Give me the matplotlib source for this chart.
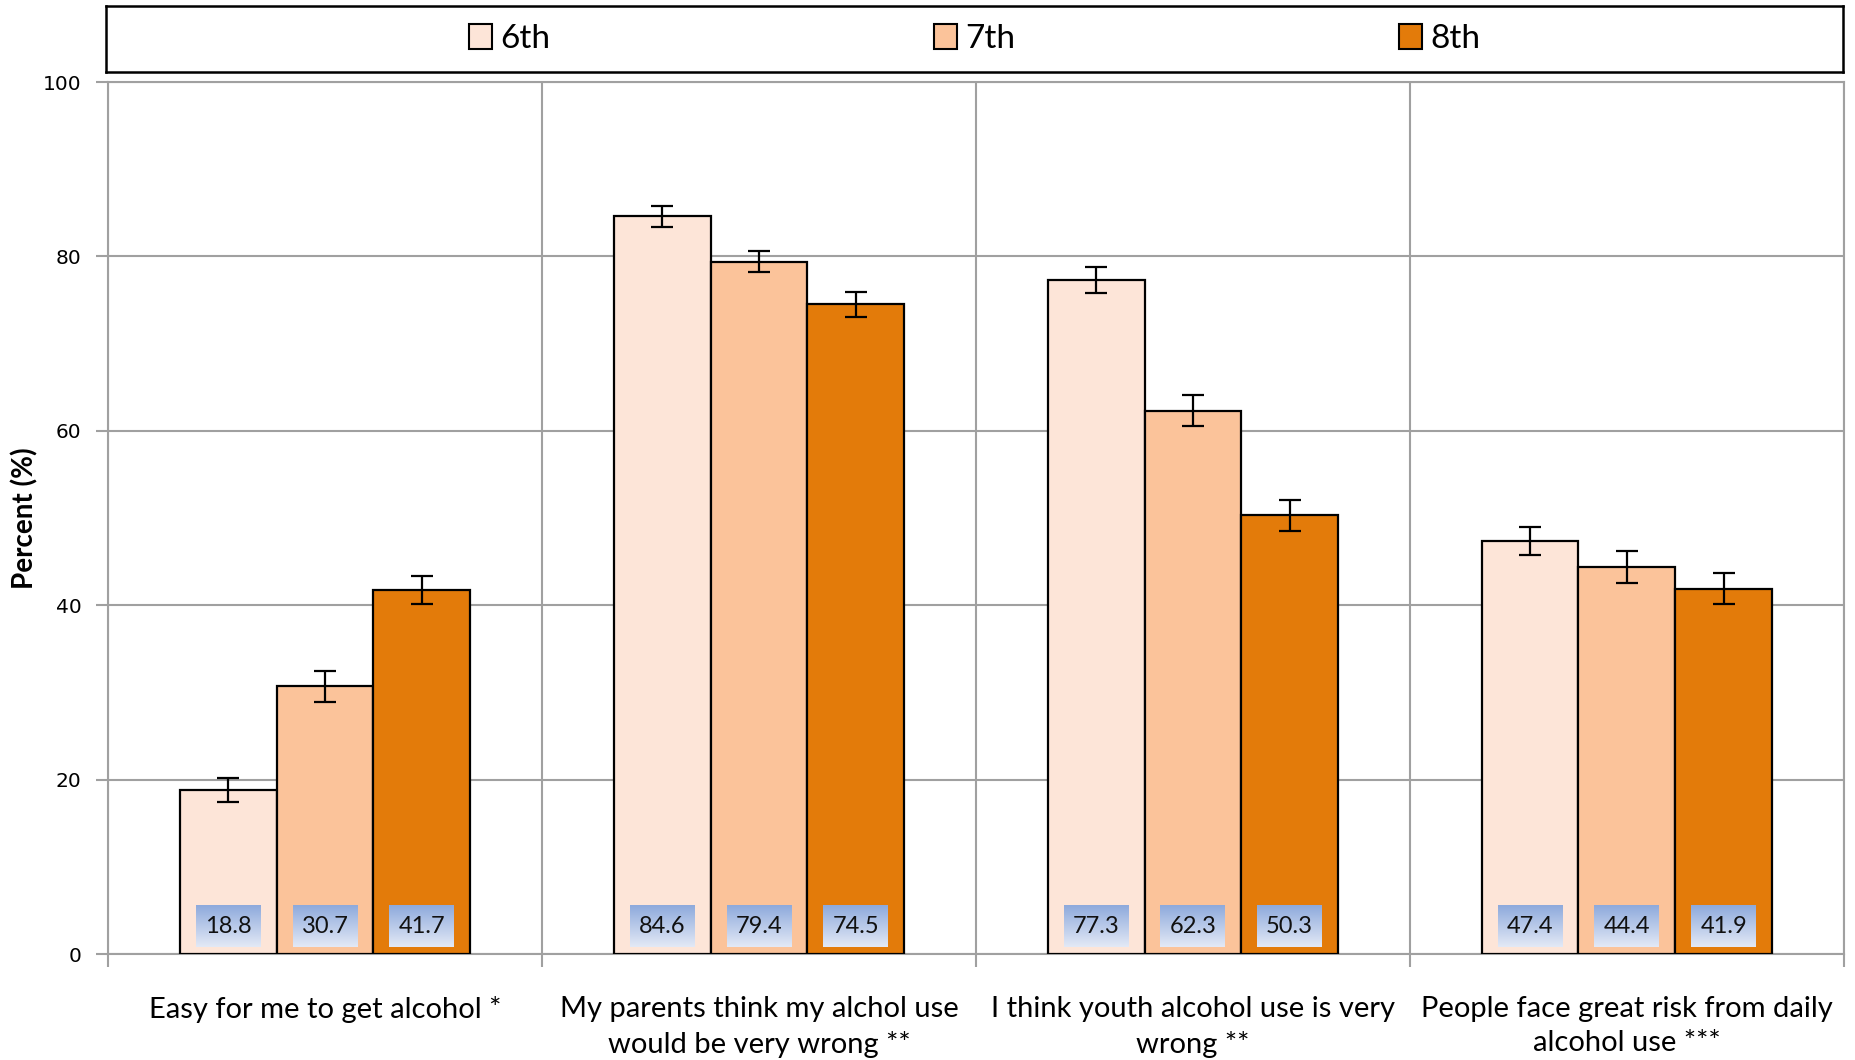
import matplotlib
matplotlib.use("Agg")
import matplotlib.pyplot as plt
import numpy as np
from matplotlib.patches import Patch
from matplotlib.colors import LinearSegmentedColormap

categories = ["Easy for me to get alcohol *",
              "My parents think my alchol use\nwould be very wrong **",
              "I think youth alcohol use is very\nwrong **",
              "People face great risk from daily\nalcohol use ***"]
series = ["6th", "7th", "8th"]
values = {
    "6th": [18.8, 84.6, 77.3, 47.4],
    "7th": [30.7, 79.4, 62.3, 44.4],
    "8th": [41.7, 74.5, 50.3, 41.9],
}
errors = {
    "6th": [1.4, 1.2, 1.5, 1.6],
    "7th": [1.75, 1.2, 1.8, 1.8],
    "8th": [1.6, 1.4, 1.8, 1.8],
}
colors = {"6th": "#fde5d8", "7th": "#fbc39a", "8th": "#e37b0a"}
yticks = [0, 20, 40, 60, 80, 100]

plt.rcParams['font.family'] = ['Lato', 'DejaVu Sans']

fig = plt.figure(figsize=(18.55, 10.60), dpi=100)
ax = fig.add_axes([0.0582, 0.1, 0.9358, 0.8226])

x = np.arange(len(categories))
bw = 0.223
offsets = [-bw, 0, bw]

grad = np.linspace(0, 1, 100).reshape(-1, 1)
gcmap = LinearSegmentedColormap.from_list("g", ["#e3e9f6", "#8eaadc"])

for s, off in zip(series, offsets):
    xs = x + off
    ax.bar(xs, values[s], width=bw, color=colors[s], edgecolor="black",
           linewidth=1.6, zorder=3)
    ax.errorbar(xs, values[s], yerr=errors[s], fmt="none", ecolor="black",
                elinewidth=1.6, capsize=8, capthick=1.6, zorder=4)
    for xi, v in zip(xs, values[s]):
        ax.imshow(grad, cmap=gcmap, aspect="auto", origin="lower",
                  extent=(xi - 0.335 * bw, xi + 0.335 * bw, 0.8, 5.6),
                  zorder=5, interpolation="bilinear")
        ax.text(xi, 3.1, f"{v:.1f}", ha="center", va="center", fontsize=17,
                zorder=6, color="#111111")

ax.set_xlim(-0.5, len(categories) - 0.5)
ax.set_ylim(0, 100)
ax.set_yticks(yticks)
ax.set_yticklabels([str(t) for t in yticks], fontfamily="DejaVu Sans", fontsize=14.5)
ax.set_xticks(x)
ax.set_xticklabels(categories, fontsize=21, linespacing=1.42)
ax.set_xticks(np.arange(-0.5, len(categories), 1.0), minor=True)
ax.tick_params(axis="x", which="major", length=0, pad=30)
ax.tick_params(axis="x", which="minor", length=9, width=1.5, color="#a0a0a0")
ax.tick_params(axis="y", length=9, width=1.5, color="#a0a0a0", pad=10)

ax.grid(axis="y", color="#a0a0a0", linewidth=1.5, zorder=0)
ax.grid(axis="x", which="minor", color="#a0a0a0", linewidth=1.5, zorder=0)
ax.set_axisbelow(True)
for sp in ax.spines.values():
    sp.set_color("#a0a0a0")
    sp.set_linewidth(1.5)

ax.set_ylabel("Percent (%)", fontsize=20, fontweight="bold", labelpad=3)

# legend frame
lax = fig.add_axes([106 / 1855, 1 - 72 / 1060, (1843 - 106) / 1855, 66 / 1060])
lax.set_xticks([]); lax.set_yticks([])
for sp in lax.spines.values():
    sp.set_color("black"); sp.set_linewidth(1.8)
handles = [Patch(facecolor=colors[s], edgecolor="black", linewidth=1.5, label=s) for s in series]
lax.legend(handles=handles, loc="center", ncol=3, frameon=False, fontsize=24,
           handlelength=0.7, handleheight=0.75, handletextpad=0.25,
           columnspacing=11.5)

fig.savefig("out.png", dpi=100)
